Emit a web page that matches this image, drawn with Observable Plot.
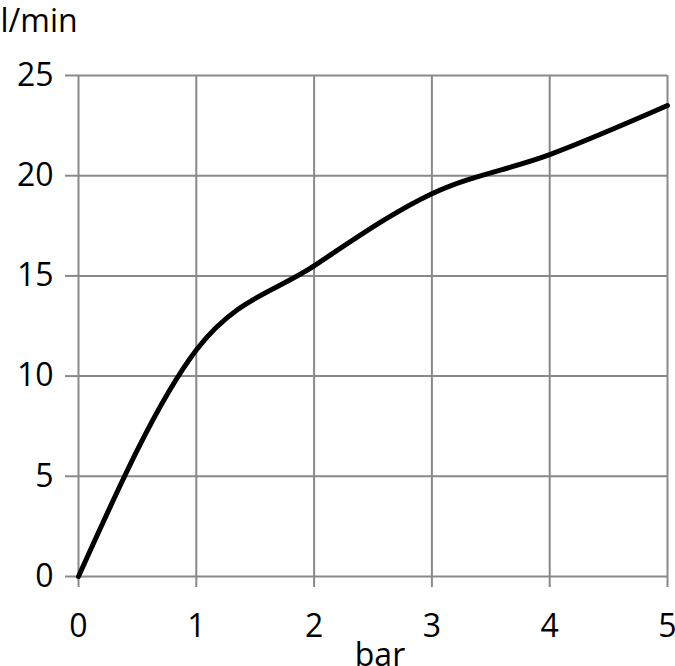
<!DOCTYPE html>
<html>
<head>
<meta charset="utf-8">
<script src="https://cdn.jsdelivr.net/npm/d3@7"></script>
<script src="https://cdn.jsdelivr.net/npm/@observablehq/plot@0.6"></script>
<style>
  html, body { margin: 0; padding: 0; background: #fff; }
</style>
</head>
<body>
<div id="chart"></div>
<script>
const pressure = [0, 1, 2, 3, 4, 5];            // bar
const flow = [0, 11.3, 15.5, 19.1, 21.05, 23.5]; // l/min
const xTicks = [0, 1, 2, 3, 4, 5];
const yTicks = [0, 5, 10, 15, 20, 25];
const xLabel = "bar";
const yLabel = "l/min";

const data = pressure.map((p, i) => ({p, f: flow[i]}));
const grid = "#898989";

const chart = Plot.plot({
  width: 675,
  height: 666,
  marginLeft: 78,
  marginRight: 8,
  marginTop: 75,
  marginBottom: 90,
  style: {fontFamily: "'Open Sans', sans-serif", fontSize: "32px", background: "#fff", color: "#000"},
  x: {domain: [0, 5], ticks: xTicks, tickFormat: "d"},
  y: {domain: [0, 25], ticks: yTicks, tickFormat: "d"},
  marks: [
    Plot.gridX(xTicks, {stroke: grid, strokeOpacity: 1, strokeWidth: 2}),
    Plot.gridY(yTicks, {stroke: grid, strokeOpacity: 1, strokeWidth: 2}),
    Plot.axisX(xTicks, {tickSize: 11, tickPadding: 27, stroke: grid, strokeWidth: 2, fill: "#000", label: null, fontSize: 32, tickFormat: "d"}),
    Plot.axisY(yTicks, {tickSize: 13, tickPadding: 12, stroke: grid, strokeWidth: 2, fill: "#000", label: null, fontSize: 32, tickFormat: "d"}),
    Plot.line(data, {x: "p", y: "f", curve: "monotone-x", stroke: "#000", strokeWidth: 5}),
    Plot.text([yLabel], {frameAnchor: "top-left", textAnchor: "start", lineAnchor: "bottom", dx: -78, dy: -44, fontSize: 32, fill: "#000"}),
    Plot.text([xLabel], {frameAnchor: "bottom", lineAnchor: "bottom", dx: 7, dy: 89, fontSize: 32, fill: "#000"})
  ]
});
document.getElementById("chart").appendChild(chart);
</script>
</body>
</html>
